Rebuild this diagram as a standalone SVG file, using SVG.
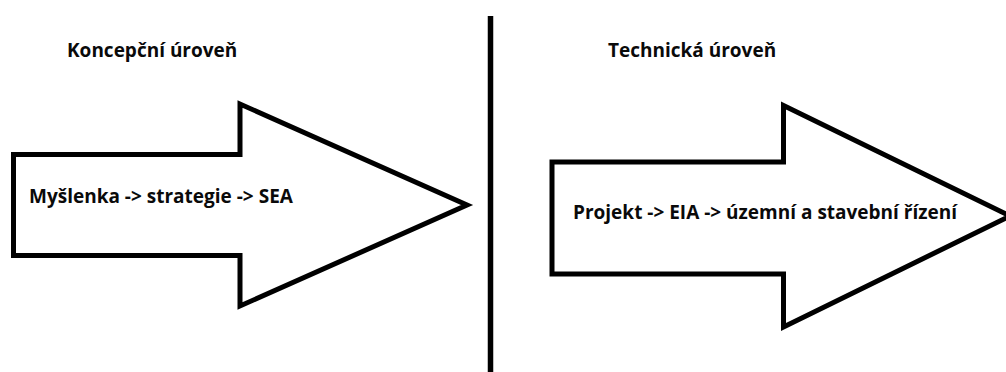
<svg xmlns="http://www.w3.org/2000/svg" width="1006" height="372" viewBox="0 0 1006 372">
  <style>
    .arrow { fill: #ffffff; stroke: #000000; stroke-width: 5; stroke-linejoin: miter; }
    .divider { stroke: #000000; stroke-width: 5.5; }
    .label { font-family: "Open Sans", "Liberation Sans", sans-serif; font-weight: 700; font-size: 19px; fill: #0a0a0a; }
  </style>
  <rect width="1006" height="372" fill="#ffffff"/>

  <!-- vertical separator between the two levels -->
  <g id="separator">
    <line class="divider" x1="490.5" y1="16" x2="490.5" y2="372"/>
  </g>

  <!-- headings -->
  <g id="heading-conceptual">
    <text class="label" x="67" y="57">Koncepční úroveň</text>
  </g>
  <g id="heading-technical">
    <text class="label" x="608" y="57">Technická úroveň</text>
  </g>

  <!-- left block arrow -->
  <g id="node-conceptual">
    <polygon class="arrow" points="13.5,154.5 240,154.5 240,104 467,205 240,306 240,255.5 13.5,255.5"/>
    <text class="label" x="29" y="203">Myšlenka -&gt; strategie -&gt; SEA</text>
  </g>

  <!-- right block arrow (tip runs off the right edge) -->
  <g id="node-technical">
    <polygon class="arrow" points="552,162 783.5,162 783.5,105.5 1010,216 783.5,327 783.5,274 552,274"/>
    <text class="label" x="573" y="219">Projekt -&gt; EIA -&gt; územní a stavební řízení</text>
  </g>

  <g id="connectors"/>
</svg>
